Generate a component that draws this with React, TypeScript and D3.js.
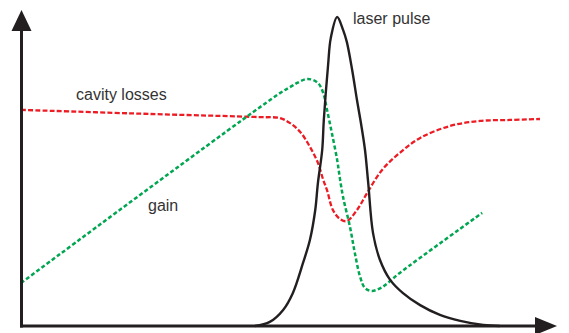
import React from "react";
import * as d3 from "d3";

// Time axis runs 0..100 (arbitrary units), signal levels 0..100 (arbitrary units)
const pulseTime = [43.7, 46.5, 49.0, 50.8, 52.7, 54.0, 55.0, 55.5, 56.3, 56.6, 57.4, 57.9, 59.1, 60.2, 60.9, 61.9, 62.8, 63.6, 64.3, 64.9, 65.8, 67.1, 69.0, 71.4, 74.6, 78.3, 82.1, 86.4, 89.5];
const pulseLevel = [0, 1.3, 5.1, 10.4, 19.9, 27.2, 36.7, 45.3, 55.7, 65.2, 82.6, 91.1, 97.8, 93.7, 89.9, 81.0, 71.5, 63.6, 55.7, 45.3, 29.4, 20.9, 14.6, 10.4, 6.6, 3.5, 1.6, 0.3, 0];

const lossTime = [0, 24.1, 44.7, 48.4, 50.3, 52.2, 54.0, 55.5, 56.5, 57.2, 58.3, 59.6, 60.9, 62.8, 64.7, 67.5, 70.8, 74.6, 80.2, 85.8, 91.4, 97.0];
const lossLevel = [68.4, 67.1, 66.1, 65.8, 64.2, 61.4, 56.7, 51.6, 46.2, 43.0, 36.7, 33.9, 33.2, 36.7, 42.1, 49.4, 54.8, 59.5, 63.3, 64.9, 65.2, 65.5];

const gainTime = [0, 48.4, 50.3, 51.6, 53.6, 55.5, 56.5, 57.2, 58.1, 59.1, 59.6, 60.2, 61.5, 62.4, 63.4, 64.3, 65.6, 67.5, 70.8, 86.2];
const gainLevel = [13.6, 73.7, 75.6, 76.9, 78.2, 76.9, 73.7, 68.4, 61.1, 52.5, 46.8, 40.8, 31.3, 23.1, 15.5, 12.0, 11.1, 12.3, 16.8, 35.8];

const labels = ["cavity losses", "laser pulse", "gain"];

const W = 569;
const H = 333;
const x0 = 21.5;
const xEnd = 557;
const y0 = 326;
const yTop = 10;

const x = d3.scaleLinear().domain([0, 100]).range([21, 556]);
const y = d3.scaleLinear().domain([0, 100]).range([326, 10]);

type Pt = [number, number];
const zip = (t: number[], v: number[]): Pt[] => t.map((ti, i) => [ti, v[i]]);

const line = d3
  .line<Pt>()
  .x((d) => x(d[0]))
  .y((d) => y(d[1]))
  .curve(d3.curveCatmullRom.alpha(0.5));

export default function App() {
  const ink = "#231f20";
  const font = "'Liberation Sans', Arial, sans-serif";
  return (
    <svg
      width={W}
      height={H}
      style={{ position: "absolute", left: 0, top: 0, background: "#fff" }}
    >
      {/* cavity losses */}
      <path
        d={line(zip(lossTime, lossLevel)) || ""}
        fill="none"
        stroke="#ed1c24"
        strokeWidth={2.3}
        strokeDasharray="5 2.2"
      />
      {/* gain */}
      <path
        d={line(zip(gainTime, gainLevel)) || ""}
        fill="none"
        stroke="#00a651"
        strokeWidth={2.5}
        strokeDasharray="4 2.4"
      />
      {/* laser pulse */}
      <path
        d={line(zip(pulseTime, pulseLevel)) || ""}
        fill="none"
        stroke={ink}
        strokeWidth={2.4}
      />
      {/* axes */}
      <line x1={x0} y1={y0 + 1.5} x2={x0} y2={yTop + 18} stroke={ink} strokeWidth={3} />
      <line x1={x0 - 1.5} y1={y0} x2={xEnd - 20} y2={y0} stroke={ink} strokeWidth={3} />
      <path d={`M${x0},${yTop} L${x0 + 10},${yTop + 21} L${x0 - 10},${yTop + 21} Z`} fill={ink} />
      <path d={`M${xEnd},${y0} L${xEnd - 22},${y0 + 9} L${xEnd - 22},${y0 - 9} Z`} fill={ink} />
      {/* labels */}
      <g fontFamily={font} fontSize={16} fill="#333">
        <text x={76} y={100}>{labels[0]}</text>
        <text x={353} y={24}>{labels[1]}</text>
        <text x={148} y={211}>{labels[2]}</text>
      </g>
    </svg>
  );
}
